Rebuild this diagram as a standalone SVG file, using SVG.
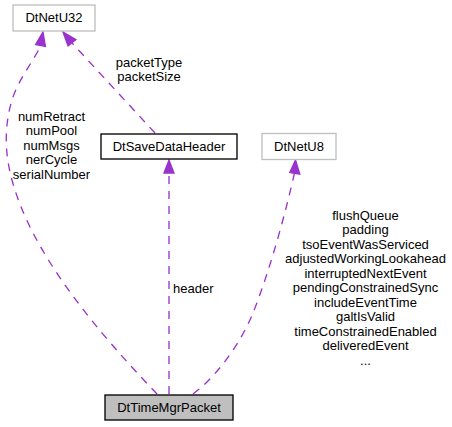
<svg xmlns="http://www.w3.org/2000/svg" width="452" height="427" viewBox="0 0 452 427">
<style>
text{font-family:"Liberation Sans",Arial,Helvetica,sans-serif;font-size:13px;fill:#000}
.m{text-anchor:middle}
.edge{fill:none;stroke:#9a32cd;stroke-width:1.33;stroke-dasharray:8,7}
.head{fill:#9a32cd;stroke:#9a32cd;stroke-width:1.33}
.ext{fill:#fff;stroke:#bfbfbf;stroke-width:1.33}
.nd{fill:#fff;stroke:#000;stroke-width:1.33}
.cur{fill:#bfbfbf;stroke:#000;stroke-width:1.33}
</style>
<rect width="452" height="427" fill="#fff"/>
<g id="connectors">
<g id="e_u32_left">
<path class="edge" d="M157,394 C120,355 40,270 15,190 C5,160 3,130 12,100 C18,80 33,62 40.5,46"/>
<polygon class="head" points="35.6,44.5 43,32 45.4,46.5"/>
<text class="m" x="51.5" y="120.5">numRetract</text>
<text class="m" x="51.5" y="135">numPool</text>
<text class="m" x="51.5" y="149.5">numMsgs</text>
<text class="m" x="51.5" y="164">nerCycle</text>
<text class="m" x="51.5" y="178.5">serialNumber</text>
</g>
<g id="e_u32_hdr">
<path class="edge" d="M155,133 L72,43"/>
<polygon class="head" points="68.1,46 63,32 75.9,39.6"/>
<text class="m" x="149" y="67">packetType</text>
<text class="m" x="149" y="81">packetSize</text>
</g>
<g id="e_hdr">
<path class="edge" d="M169,394 L169,173"/>
<polygon class="head" points="164,173 169,160 174,173"/>
<text x="173" y="292.5">header</text>
</g>
<g id="e_u8">
<path class="edge" d="M193,394 C215,378 240,345 253,313 C270,270 285,215 294.5,173"/>
<polygon class="head" points="289.8,172.5 295.5,160 299.8,174.2"/>
<text class="m" x="365.5" y="219.5">flushQueue</text>
<text class="m" x="365.5" y="234">padding</text>
<text class="m" x="365.5" y="248.5">tsoEventWasServiced</text>
<text class="m" x="365.5" y="263">adjustedWorkingLookahead</text>
<text class="m" x="365.5" y="277.5">interruptedNextEvent</text>
<text class="m" x="365.5" y="292">pendingConstrainedSync</text>
<text class="m" x="365.5" y="306.5">includeEventTime</text>
<text class="m" x="365.5" y="321">galtIsValid</text>
<text class="m" x="365.5" y="335.5">timeConstrainedEnabled</text>
<text class="m" x="365.5" y="350">deliveredEvent</text>
<text class="m" x="365.5" y="364.5">...</text>
</g>
</g>
<g id="DtNetU32">
<rect class="ext" x="13" y="5" width="82" height="26"/>
<text class="m" x="54" y="22">DtNetU32</text>
</g>
<g id="DtSaveDataHeader">
<rect class="nd" x="101" y="134" width="136" height="25"/>
<text class="m" x="169" y="151">DtSaveDataHeader</text>
</g>
<g id="DtNetU8">
<rect class="ext" x="262" y="133.5" width="74" height="26"/>
<text class="m" x="299" y="151">DtNetU8</text>
</g>
<g id="DtTimeMgrPacket">
<rect class="cur" x="105" y="395" width="128" height="25"/>
<text class="m" x="169" y="412">DtTimeMgrPacket</text>
</g>
</svg>
